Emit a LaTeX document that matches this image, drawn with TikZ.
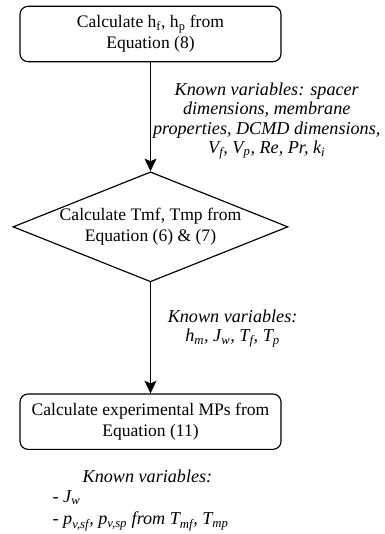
\documentclass[tikz,border=0pt]{standalone}
\usepackage{fontspec}
\setmainfont{Liberation Serif}
\newfontfamily\flowfont{Liberation Serif}
\usetikzlibrary{arrows.meta,shapes.geometric,positioning}

\begin{document}
\begin{tikzpicture}[node distance=3.3cm,
    box/.style={draw,line width=1pt,rounded corners=0.24cm,minimum width=7.83cm,minimum height=1.66cm,align=center,font=\flowfont\fontsize{15}{18}\selectfont},
    decision/.style={draw,diamond,line width=1pt,shape aspect=2.5,minimum width=8.25cm,minimum height=3.3cm,inner xsep=-0.9cm,inner ysep=-0.5cm,align=center,font=\flowfont\fontsize{15}{17.5}\selectfont},
    known/.style={align=center,inner sep=0pt,font=\flowfont\fontsize{15.5}{16.5}\selectfont\itshape},
    flow/.style={-{Stealth[length=0.38cm,width=0.36cm,inset=0.08cm]},line width=1pt}]
  \useasboundingbox (0,0) rectangle (11.55,-16.02);
  \node[box] (hcalc) at (4.515,-1.02) {Calculate h\textsubscript{f}, h\textsubscript{p} from\\Equation (8)};
  \node[decision,below=3.27cm of hcalc] (tmcalc) {Calculate Tmf, Tmp from\\Equation (6) \& (7)};
  \node[box,below=3.33cm of tmcalc] (mpcalc) {Calculate experimental MPs from\\Equation (11)};
  \draw[flow] (hcalc) -- node[known,right=0.06cm,yshift=-0.13cm] (known1) {Known variables: spacer\\dimensions, membrane\\properties, DCMD dimensions,\\V\textsubscript{f}, V\textsubscript{p}, Re, Pr, k\textsubscript{i}} (tmcalc);
  \draw[flow] (tmcalc) -- node[known,right=0.5cm,yshift=0.28cm] (known2) {Known variables:\\h\textsubscript{m}, J\textsubscript{w}, T\textsubscript{f}, T\textsubscript{p}} (mpcalc);
  \node[known,align=left,anchor=north west] (known3) at ([xshift=0.99cm,yshift=-0.6cm]mpcalc.south west) {\hspace*{0.9cm}Known variables:\\{\upshape -} J\textsubscript{w}\\[3pt]{\upshape -} p\textsubscript{v,sf}, p\textsubscript{v,sp} from T\textsubscript{mf}, T\textsubscript{mp}};
\end{tikzpicture}
\end{document}
